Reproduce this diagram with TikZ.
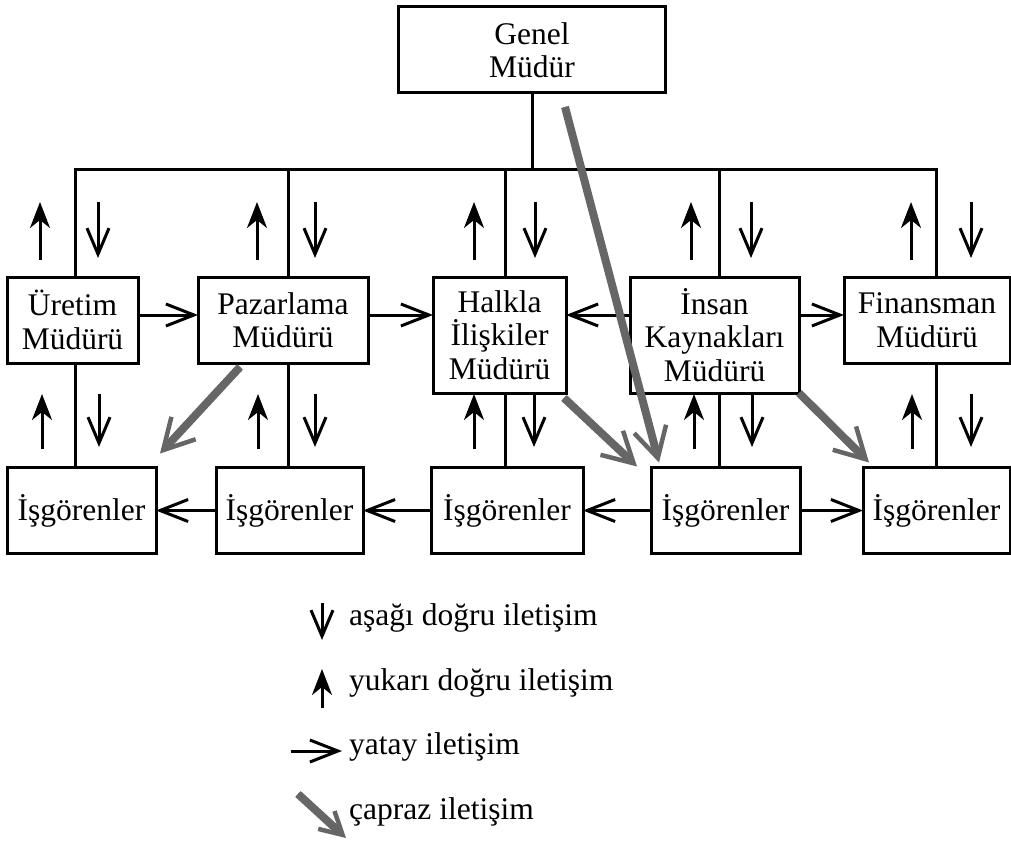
\documentclass[tikz,border=0pt]{standalone}
\usepackage{fontspec}
\setmainfont{Liberation Serif}
\usetikzlibrary{arrows.meta,calc}

% diagonal (cross) communication arrow: thick grey shaft plus barbed head
\newcommand\crossarrow[3][30pt]{%
  \draw[gshaft] (#2) -- (#3);
  \draw[ghead, -{Straight Barb[length=#1,width=1.1*#1]}] (#2) -- (#3);}

\begin{document}
\begin{tikzpicture}[x=1pt,y=-1pt,
  every node/.style={font=\fontsize{31.5}{33.5}\selectfont},
  box/.style={draw, line width=3pt, inner sep=0pt, outer sep=0pt, align=center},
  conn/.style={line width=3pt, line join=miter},
  uparr/.style={line width=3pt, -{Stealth[length=26pt,width=20pt,inset=8pt]}},
  dnarr/.style={line width=3pt, -{Straight Barb[length=26pt,width=22pt]}},
  harr/.style={line width=3pt, -{Straight Barb[length=28pt,width=22pt]}},
  gshaft/.style={line width=8pt, draw=black!60, shorten >=12pt},
  ghead/.style={line width=4.5pt, draw=black!60},
  legend/.style={anchor=base west, inner sep=0pt}]

\useasboundingbox (0,0) rectangle (1011,842);

% top management
\node[box, minimum width=267pt, minimum height=86pt] (gm) at (532,50) {Genel\\Müdür};

% department managers
\node[box, minimum width=131pt, minimum height=86pt]  (ure) at (72.5,320)  {Üretim\\Müdürü};
\node[box, minimum width=170pt, minimum height=86pt]  (paz) at (283,320)   {Pazarlama\\Müdürü};
\node[box, minimum width=133pt, minimum height=116pt] (hal) at (499.5,335) {Halkla\\İlişkiler\\Müdürü};
\node[box, minimum width=169pt, minimum height=116pt] (ins) at (714.5,335) {İnsan\\Kaynakları\\Müdürü};
\node[box, minimum width=166pt, minimum height=86pt]  (fin) at (927,320)   {Finansman\\Müdürü};

% employees
\node[box, minimum width=149pt, minimum height=86pt] (isg1) at (81.5,510.5)  {İşgörenler};
\node[box, minimum width=147pt, minimum height=86pt] (isg2) at (289.5,510.5) {İşgörenler};
\node[box, minimum width=152pt, minimum height=86pt] (isg3) at (507,510.5)   {İşgörenler};
\node[box, minimum width=149pt, minimum height=86pt] (isg4) at (725.5,510.5) {İşgörenler};
\node[box, minimum width=147pt, minimum height=86pt] (isg5) at (936.5,510.5) {İşgörenler};

% branch points on the horizontal bus
\coordinate (v1) at (75,170);
\coordinate (v2) at (288,170);
\coordinate (v3) at (505,170);
\coordinate (v4) at (719,170);
\coordinate (v5) at (936,170);
\coordinate (hy) at (0,315);

% hierarchy lines
\draw[conn] (gm.south) -- (gm.south |- v1);
\draw[conn] (ure.north -| v1) -- (v1) -- (v5) -- (fin.north -| v5);
\draw[conn] (v2) -- (paz.north -| v2);
\draw[conn] (v3) -- (hal.north -| v3);
\draw[conn] (v4) -- (ins.north -| v4);
\draw[conn] (ure.south -| v1) -- (isg1.north -| v1);
\draw[conn] (paz.south -| v2) -- (isg2.north -| v2);
\draw[conn] (hal.south -| v3) -- (isg3.north -| v3);
\draw[conn] (ins.south -| v4) -- (isg4.north -| v4);
\draw[conn] (fin.south -| v5) -- (isg5.north -| v5);

% vertical communication, upper level
\foreach \x in {40,257,474,691,911} \draw[uparr] (\x,260) -- (\x,202);
\foreach \x in {98,315,535,751,971} \draw[dnarr] (\x,202) -- (\x,258);
% vertical communication, lower level
\foreach \x in {42,258,474,694,912} \draw[uparr] (\x,449) -- (\x,394);
\foreach \x in {99,315,534,752,971} \draw[dnarr] (\x,394) -- (\x,447);

% horizontal communication
\draw[harr] (ure.east |- hy) -- (paz.west |- hy);
\draw[harr] (paz.east |- hy) -- (hal.west |- hy);
\draw[harr] (ins.west |- hy) -- (hal.east |- hy);
\draw[harr] (ins.east |- hy) -- (fin.west |- hy);
\draw[harr] (isg2.west) -- (isg1.east);
\draw[harr] (isg3.west) -- (isg2.east);
\draw[harr] (isg4.west) -- (isg3.east);
\draw[harr] (isg4.east) -- (isg5.west);

% cross communication
\coordinate (c1s) at ($(gm.south)+(33,14)$);
\coordinate (c1e) at ($(isg4.north west)+(8,-5)$);
\coordinate (c2s) at ($(paz.south west)+(42,4)$);
\coordinate (c2e) at ($(isg1.north east)+(4,-14)$);
\coordinate (c3s) at ($(hal.south east)+(-2,5)$);
\coordinate (c3e) at ($(isg4.north west)+(-14,-1)$);
\coordinate (c4s) at (ins.south east);
\coordinate (c4e) at ($(isg5.north west)+(6,-5)$);
\crossarrow{c1s}{c1e}
\crossarrow{c2s}{c2e}
\crossarrow{c3s}{c3e}
\crossarrow{c4s}{c4e}

% legend
\node[legend] (l1) at (349,625) {aşağı doğru iletişim};
\node[legend] (l2) at (349,690) {yukarı doğru iletişim};
\node[legend] (l3) at (349,754) {yatay iletişim};
\node[legend] (l4) at (349,819) {çapraz iletişim};
\coordinate (k1a) at (322,603); \coordinate (k1b) at (322,640);
\coordinate (k2a) at (322,708); \coordinate (k2b) at (322,669);
\coordinate (k3a) at (291,751); \coordinate (k3b) at (342,751);
\coordinate (k4a) at (298,794); \coordinate (k4b) at (346,838);
\draw[dnarr] (k1a) -- (k1b);
\draw[uparr] (k2a) -- (k2b);
\draw[harr] (k3a) -- (k3b);
\crossarrow[22pt]{k4a}{k4b}

\end{tikzpicture}
\end{document}
